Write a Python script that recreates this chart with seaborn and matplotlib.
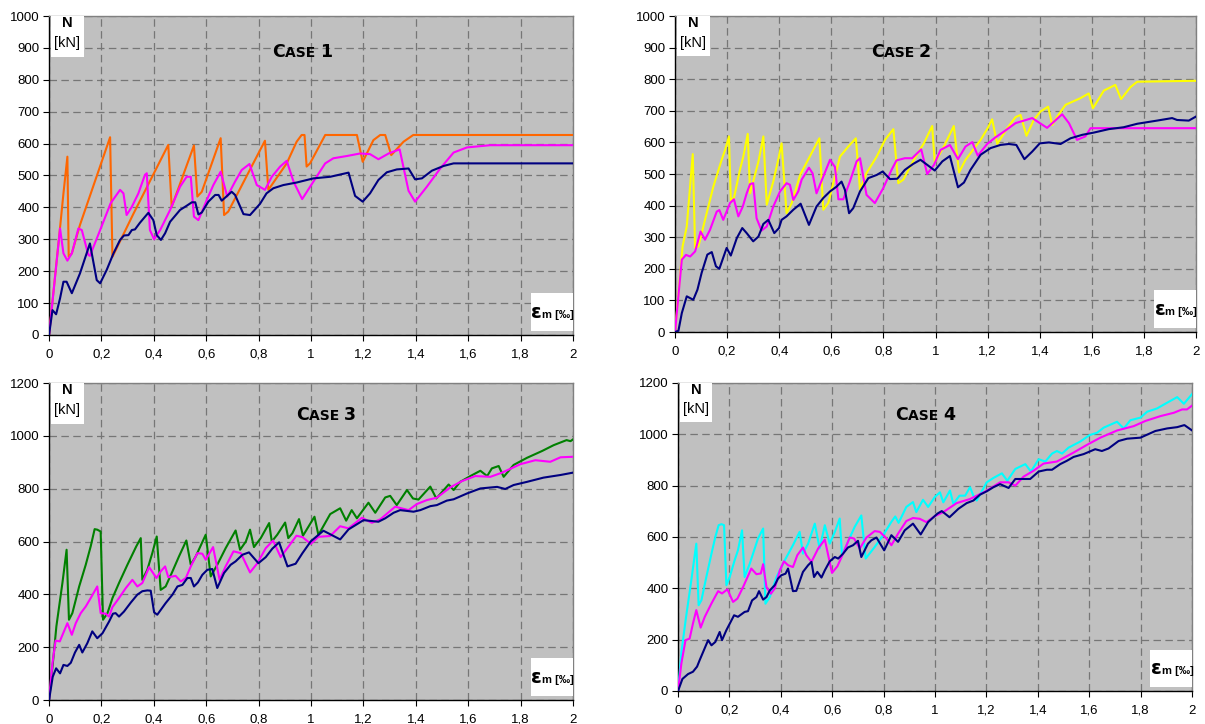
import matplotlib
matplotlib.use("Agg")
import matplotlib.pyplot as plt
from matplotlib.offsetbox import TextArea, HPacker, AnnotationBbox
from matplotlib.patches import Rectangle
import seaborn as sns

plt.rcParams["font.family"] = ["Liberation Sans", "DejaVu Sans"]

# ---------------- data: axial force N [kN] vs mean strain em [permille] ----------------
x_ticks = [0, 0.2, 0.4, 0.6, 0.8, 1.0, 1.2, 1.4, 1.6, 1.8, 2.0]
x_tick_labels = ["0", "0,2", "0,4", "0,6", "0,8", "1", "1,2", "1,4", "1,6", "1,8", "2"]
case_titles = ["1", "2", "3", "4"]
y_ticks_top = [0, 100, 200, 300, 400, 500, 600, 700, 800, 900, 1000]
y_ticks_bottom = [0, 200, 400, 600, 800, 1000, 1200]

# Case 1
c1_orange_x = [0, 0.04, 0.055, 0.07, 0.075, 0.087, 0.118, 0.233, 0.242, 0.322, 0.455, 0.468, 0.553,
               0.566, 0.583, 0.655, 0.668, 0.684, 0.824, 0.837, 0.907, 0.945, 0.964, 0.975, 0.983,
               0.996, 1.054, 1.175, 1.197, 1.238, 1.264, 1.283, 1.306, 1.353, 1.39, 2.0]
c1_orange_y = [0, 320, 444, 559, 245, 256, 345, 620, 245, 380, 596, 402, 594,
               434, 449, 617, 376, 387, 609, 455, 538, 606, 627, 627, 528,
               538, 627, 627, 543, 611, 627, 627, 564, 606, 627, 627]

c1_magenta_x = [0, 0.042, 0.055, 0.07, 0.087, 0.112, 0.125, 0.15, 0.156, 0.195, 0.235, 0.271, 0.284,
                0.296, 0.316, 0.341, 0.366, 0.373, 0.385, 0.401, 0.424, 0.462, 0.5, 0.525, 0.541,
                0.553, 0.57, 0.602, 0.627, 0.655, 0.68, 0.71, 0.735, 0.765, 0.793, 0.824, 0.85,
                0.882, 0.907, 0.933, 0.966, 1.009, 1.054, 1.085, 1.136, 1.187, 1.225, 1.257, 1.296,
                1.338, 1.372, 1.397, 1.442, 1.493, 1.544, 1.595, 1.684, 2.0]
c1_magenta_y = [0, 334, 256, 233, 256, 334, 329, 251, 248, 329, 413, 455, 444,
                376, 402, 444, 502, 507, 329, 300, 329, 392, 465, 496, 496,
                371, 360, 423, 470, 512, 434, 481, 517, 536, 470, 455, 496,
                528, 546, 481, 426, 481, 538, 554, 561, 569, 567, 551, 569,
                582, 452, 418, 465, 522, 572, 588, 595, 595]

c1_navy_x = [0, 0.013, 0.027, 0.042, 0.055, 0.067, 0.087, 0.118, 0.156, 0.182, 0.195, 0.22, 0.246,
             0.271, 0.286, 0.303, 0.316, 0.328, 0.347, 0.379, 0.398, 0.411, 0.427, 0.443, 0.462,
             0.5, 0.525, 0.545, 0.558, 0.57, 0.583, 0.608, 0.634, 0.647, 0.659, 0.697, 0.71,
             0.742, 0.767, 0.805, 0.83, 0.856, 0.894, 0.945, 1.009, 1.073, 1.143, 1.168, 1.197,
             1.225, 1.257, 1.289, 1.327, 1.372, 1.397, 1.423, 1.461, 1.506, 1.544, 2.0]
c1_navy_y = [0, 78, 65, 115, 167, 167, 131, 193, 287, 172, 162, 204, 256,
             298, 312, 313, 329, 331, 352, 383, 360, 313, 298, 319, 355,
             392, 405, 416, 416, 378, 384, 418, 439, 439, 421, 449, 439,
             379, 376, 411, 444, 460, 470, 478, 491, 496, 509, 436, 418,
             444, 486, 510, 519, 522, 488, 491, 515, 530, 538, 538]

# Case 2
c2_yellow_x = [0, 0.029, 0.045, 0.068, 0.077, 0.09, 0.115, 0.147, 0.179, 0.192, 0.207, 0.214, 0.226,
               0.249, 0.262, 0.279, 0.288, 0.3, 0.32, 0.339, 0.352, 0.377, 0.396, 0.409, 0.428,
               0.448, 0.48, 0.524, 0.554, 0.569, 0.588, 0.633, 0.665, 0.694, 0.71, 0.735, 0.774,
               0.806, 0.838, 0.857, 0.876, 0.917, 0.955, 0.987, 0.997, 1.032, 1.07, 1.09, 1.115,
               1.173, 1.2, 1.217, 1.237, 1.275, 1.307, 1.326, 1.349, 1.377, 1.403, 1.432, 1.448,
               1.467, 1.499, 1.556, 1.588, 1.604, 1.646, 1.69, 1.712, 1.748, 1.774, 2.0]
c2_yellow_y = [0, 271, 334, 563, 266, 271, 355, 460, 545, 576, 619, 418, 424,
               513, 555, 627, 439, 476, 539, 619, 403, 476, 545, 597, 376,
               408, 497, 566, 613, 387, 408, 555, 587, 613, 450, 503, 555,
               608, 642, 471, 482, 545, 597, 652, 536, 587, 652, 505, 545,
               608, 645, 673, 595, 645, 680, 687, 621, 671, 698, 713, 655,
               682, 719, 740, 755, 708, 764, 782, 737, 775, 792, 795]

c2_magenta_x = [0, 0.026, 0.042, 0.058, 0.077, 0.098, 0.115, 0.134, 0.16, 0.17, 0.185, 0.211, 0.226,
                0.243, 0.26, 0.275, 0.288, 0.3, 0.313, 0.332, 0.352, 0.377, 0.403, 0.428, 0.441,
                0.454, 0.473, 0.486, 0.514, 0.528, 0.543, 0.569, 0.595, 0.614, 0.627, 0.646, 0.671,
                0.697, 0.71, 0.735, 0.767, 0.799, 0.831, 0.85, 0.882, 0.91, 0.945, 0.968, 0.994,
                1.019, 1.055, 1.086, 1.115, 1.141, 1.162, 1.198, 1.23, 1.262, 1.307, 1.371, 1.428,
                1.486, 1.512, 1.543, 1.575, 1.595, 2.0]
c2_magenta_y = [0, 229, 244, 239, 255, 318, 292, 323, 381, 386, 355, 408, 420,
                366, 397, 439, 468, 471, 360, 321, 334, 397, 445, 471, 466,
                418, 445, 482, 520, 502, 439, 492, 545, 522, 420, 420, 476,
                540, 550, 434, 408, 455, 513, 543, 550, 550, 578, 500, 529,
                576, 592, 547, 587, 601, 558, 595, 616, 634, 661, 677, 646,
                689, 661, 608, 619, 645, 645]

c2_navy_x = [0, 0.013, 0.026, 0.045, 0.07, 0.086, 0.102, 0.124, 0.141, 0.157, 0.17, 0.198, 0.214,
             0.237, 0.258, 0.275, 0.3, 0.32, 0.339, 0.358, 0.381, 0.399, 0.409, 0.428, 0.454,
             0.482, 0.514, 0.543, 0.569, 0.595, 0.62, 0.639, 0.652, 0.668, 0.684, 0.71, 0.742,
             0.774, 0.797, 0.825, 0.853, 0.882, 0.914, 0.942, 0.968, 0.997, 1.026, 1.055, 1.086,
             1.109, 1.134, 1.173, 1.211, 1.249, 1.281, 1.31, 1.341, 1.371, 1.4, 1.435, 1.48,
             1.518, 1.563, 1.607, 1.665, 1.722, 1.774, 1.85, 1.908, 1.927, 1.972, 2.0]
c2_navy_y = [0, 4, 60, 113, 102, 134, 187, 245, 253, 208, 200, 266, 242,
             297, 329, 313, 287, 302, 342, 355, 313, 329, 355, 366, 387,
             406, 339, 397, 424, 445, 460, 476, 450, 376, 392, 445, 487,
             497, 508, 484, 485, 513, 532, 545, 529, 511, 540, 557, 458,
             473, 513, 561, 582, 592, 595, 592, 547, 571, 597, 600, 595,
             613, 624, 631, 642, 648, 659, 669, 677, 671, 669, 682]

# Case 3
c3_green_x = [0, 0.017, 0.028, 0.051, 0.067, 0.076, 0.089, 0.115, 0.14, 0.159, 0.174, 0.184, 0.197,
              0.206, 0.223, 0.242, 0.267, 0.299, 0.333, 0.35, 0.356, 0.375, 0.394, 0.411, 0.426,
              0.445, 0.471, 0.496, 0.524, 0.541, 0.56, 0.598, 0.617, 0.642, 0.674, 0.712, 0.729,
              0.751, 0.767, 0.782, 0.808, 0.84, 0.85, 0.871, 0.901, 0.913, 0.929, 0.954, 0.969,
              1.013, 1.028, 1.073, 1.111, 1.134, 1.155, 1.175, 1.219, 1.245, 1.283, 1.302, 1.327,
              1.366, 1.389, 1.41, 1.455, 1.478, 1.525, 1.544, 1.569, 1.608, 1.646, 1.672, 1.69,
              1.716, 1.735, 1.773, 1.824, 1.882, 1.926, 1.975, 1.99, 2.0]
c3_green_y = [0, 164, 279, 443, 569, 304, 329, 430, 512, 582, 647, 645, 638,
              304, 329, 386, 443, 512, 582, 613, 455, 493, 556, 619, 417,
              430, 487, 544, 604, 512, 544, 626, 468, 512, 575, 642, 569,
              600, 645, 579, 613, 670, 600, 626, 672, 613, 632, 685, 622,
              694, 625, 704, 726, 679, 719, 688, 747, 709, 767, 773, 738,
              795, 763, 759, 808, 763, 816, 795, 826, 848, 868, 848, 877,
              886, 845, 890, 917, 943, 965, 984, 980, 987]

c3_magenta_x = [0, 0.013, 0.025, 0.041, 0.07, 0.087, 0.102, 0.121, 0.14, 0.159, 0.184, 0.197, 0.216,
                0.229, 0.242, 0.267, 0.293, 0.318, 0.337, 0.356, 0.382, 0.41, 0.426, 0.443, 0.455,
                0.483, 0.503, 0.522, 0.541, 0.566, 0.585, 0.598, 0.626, 0.651, 0.674, 0.704, 0.732,
                0.767, 0.795, 0.827, 0.855, 0.884, 0.916, 0.944, 0.967, 0.999, 1.028, 1.073, 1.111,
                1.143, 1.194, 1.232, 1.264, 1.321, 1.372, 1.404, 1.442, 1.48, 1.531, 1.576, 1.627,
                1.684, 1.729, 1.799, 1.856, 1.913, 1.952, 2.0]
c3_magenta_y = [0, 139, 225, 222, 291, 247, 291, 329, 354, 386, 430, 329, 327,
                316, 352, 386, 424, 455, 430, 443, 503, 462, 487, 506, 465,
                470, 449, 462, 506, 556, 554, 531, 579, 455, 506, 563, 556,
                483, 518, 575, 604, 541, 584, 622, 617, 591, 618, 621, 658,
                650, 690, 671, 684, 732, 719, 742, 757, 766, 805, 829, 848,
                845, 861, 893, 908, 902, 919, 921]

c3_navy_x = [0, 0.014, 0.027, 0.042, 0.055, 0.07, 0.083, 0.099, 0.115, 0.127, 0.146, 0.165, 0.184,
             0.204, 0.229, 0.244, 0.254, 0.267, 0.286, 0.312, 0.337, 0.356, 0.375, 0.388, 0.401,
             0.413, 0.445, 0.471, 0.49, 0.509, 0.528, 0.541, 0.553, 0.568, 0.585, 0.604, 0.623,
             0.642, 0.668, 0.693, 0.712, 0.738, 0.763, 0.799, 0.827, 0.852, 0.878, 0.91, 0.941,
             0.967, 0.999, 1.047, 1.111, 1.143, 1.2, 1.257, 1.283, 1.315, 1.34, 1.391, 1.417,
             1.455, 1.48, 1.518, 1.544, 1.595, 1.646, 1.71, 1.741, 1.773, 1.824, 1.887, 1.952, 2.0]
c3_navy_y = [0, 88, 120, 101, 133, 129, 141, 180, 209, 180, 215, 260, 234,
             253, 297, 327, 329, 316, 335, 369, 399, 412, 415, 414, 332,
             323, 367, 399, 430, 436, 462, 462, 430, 445, 474, 493, 496,
             424, 481, 512, 525, 550, 559, 518, 541, 573, 597, 506, 516,
             556, 601, 641, 608, 646, 681, 675, 688, 709, 719, 713, 719,
             734, 738, 755, 760, 782, 801, 807, 799, 814, 826, 842, 852, 861]

# Case 4
c4_cyan_x = [0, 0.013, 0.03, 0.05, 0.071, 0.08, 0.091, 0.11, 0.13, 0.145, 0.158, 0.169, 0.179,
             0.188, 0.201, 0.22, 0.233, 0.249, 0.259, 0.279, 0.311, 0.331, 0.34, 0.357, 0.383,
             0.415, 0.447, 0.473, 0.486, 0.506, 0.532, 0.551, 0.571, 0.59, 0.61, 0.629, 0.638,
             0.661, 0.687, 0.713, 0.73, 0.765, 0.798, 0.83, 0.845, 0.858, 0.888, 0.914, 0.927,
             0.953, 0.973, 0.999, 1.019, 1.032, 1.058, 1.071, 1.095, 1.117, 1.136, 1.149, 1.162,
             1.201, 1.227, 1.26, 1.281, 1.312, 1.351, 1.373, 1.403, 1.429, 1.455, 1.474, 1.494,
             1.519, 1.565, 1.601, 1.63, 1.656, 1.708, 1.734, 1.76, 1.799, 1.825, 1.864, 1.89,
             1.942, 1.968, 2.0]
c4_cyan_y = [0, 150, 280, 420, 574, 334, 354, 444, 535, 600, 646, 650, 646,
             412, 444, 509, 548, 626, 444, 496, 594, 633, 340, 366, 444,
             509, 568, 620, 535, 574, 652, 555, 646, 574, 620, 672, 529,
             581, 639, 684, 516, 561, 607, 659, 680, 655, 717, 736, 697,
             745, 717, 756, 774, 735, 781, 729, 761, 761, 794, 761, 742,
             813, 830, 848, 819, 865, 884, 855, 903, 894, 925, 935, 925,
             948, 972, 997, 1006, 1026, 1049, 1023, 1055, 1065, 1088, 1101, 1116,
             1145, 1119, 1157]

c4_magenta_x = [0, 0.013, 0.029, 0.045, 0.058, 0.071, 0.088, 0.104, 0.13, 0.156, 0.171, 0.192, 0.214,
                0.231, 0.253, 0.285, 0.305, 0.322, 0.331, 0.344, 0.361, 0.376, 0.396, 0.412, 0.428,
                0.447, 0.464, 0.486, 0.499, 0.519, 0.545, 0.571, 0.599, 0.62, 0.642, 0.668, 0.685,
                0.707, 0.733, 0.765, 0.785, 0.811, 0.83, 0.856, 0.888, 0.914, 0.94, 0.966, 0.999,
                1.032, 1.084, 1.136, 1.195, 1.253, 1.286, 1.312, 1.344, 1.383, 1.422, 1.474, 1.539,
                1.591, 1.643, 1.708, 1.773, 1.818, 1.877, 1.929, 1.961, 1.98, 2.0]
c4_magenta_y = [0, 108, 198, 204, 263, 315, 247, 289, 341, 389, 380, 396, 347,
                360, 405, 477, 455, 458, 494, 405, 379, 399, 470, 505, 490,
                483, 529, 559, 529, 503, 555, 590, 460, 486, 535, 598, 594,
                555, 598, 623, 620, 594, 568, 613, 662, 674, 671, 658, 681,
                697, 732, 748, 777, 813, 813, 800, 835, 858, 886, 894, 929,
                959, 987, 1015, 1032, 1052, 1071, 1084, 1097, 1097, 1112]

c4_navy_x = [0, 0.017, 0.039, 0.058, 0.074, 0.084, 0.117, 0.13, 0.145, 0.162, 0.171, 0.188, 0.218,
             0.233, 0.259, 0.272, 0.288, 0.305, 0.315, 0.331, 0.344, 0.357, 0.376, 0.389, 0.402,
             0.418, 0.428, 0.447, 0.46, 0.486, 0.506, 0.519, 0.529, 0.542, 0.558, 0.571, 0.59,
             0.61, 0.623, 0.642, 0.661, 0.681, 0.7, 0.713, 0.726, 0.739, 0.752, 0.772, 0.802,
             0.83, 0.856, 0.882, 0.914, 0.944, 0.973, 1.009, 1.026, 1.056, 1.091, 1.123, 1.149,
             1.175, 1.201, 1.227, 1.253, 1.286, 1.312, 1.37, 1.403, 1.435, 1.455, 1.487, 1.513,
             1.539, 1.578, 1.623, 1.649, 1.675, 1.714, 1.747, 1.799, 1.857, 1.903, 1.942, 1.97, 2.0]
c4_navy_y = [0, 47, 66, 75, 95, 120, 198, 178, 191, 230, 198, 237, 295,
             289, 308, 311, 353, 366, 389, 356, 366, 392, 412, 438, 451,
             457, 477, 389, 390, 464, 490, 503, 444, 464, 442, 470, 505,
             522, 516, 535, 559, 568, 585, 522, 548, 574, 587, 598, 548,
             607, 581, 626, 652, 610, 658, 691, 701, 677, 710, 732, 742,
             765, 778, 794, 806, 791, 826, 826, 855, 862, 862, 884, 897,
             912, 923, 942, 935, 945, 974, 983, 987, 1013, 1023, 1028, 1036, 1015]

NAVY = "#000080"
MAGENTA = "#FF00FF"

panels = [
    dict(rect=[0.0407, 0.5373, 0.4349, 0.4406], ymax=1000, yticks=y_ticks_top,
         series=[(c1_orange_x, c1_orange_y, "#FF6600"), (c1_magenta_x, c1_magenta_y, MAGENTA),
                 (c1_navy_x, c1_navy_y, NAVY)],
         title=case_titles[0], title_xy=(0.483, 0.887)),
    dict(rect=[0.5602, 0.5414, 0.4324, 0.4365], ymax=1000, yticks=y_ticks_top,
         series=[(c2_yellow_x, c2_yellow_y, "#FFFF00"), (c2_magenta_x, c2_magenta_y, MAGENTA),
                 (c2_navy_x, c2_navy_y, NAVY)],
         title=case_titles[1], title_xy=(0.434, 0.886)),
    dict(rect=[0.0407, 0.0331, 0.4349, 0.4378], ymax=1200, yticks=y_ticks_bottom,
         series=[(c3_green_x, c3_green_y, "#008000"), (c3_magenta_x, c3_magenta_y, MAGENTA),
                 (c3_navy_x, c3_navy_y, NAVY)],
         title=case_titles[2], title_xy=(0.528, 0.899)),
    dict(rect=[0.5627, 0.0456, 0.4266, 0.4254], ymax=1200, yticks=y_ticks_bottom,
         series=[(c4_cyan_x, c4_cyan_y, "#00FFFF"), (c4_magenta_x, c4_magenta_y, MAGENTA),
                 (c4_navy_x, c4_navy_y, NAVY)],
         title=case_titles[3], title_xy=(0.481, 0.896)),
]

TITLE_FONT = ["DejaVu Sans"]
LABEL_FONT = ["Liberation Sans", "DejaVu Sans"]


def packed_text(ax, pieces, xy):
    children = [TextArea(txt, textprops=dict(fontsize=size, fontweight="bold", family=fam, color="black"))
                for txt, size, fam in pieces]
    box = HPacker(children=children, align="baseline", pad=0, sep=0)
    ab = AnnotationBbox(box, xy, xycoords="axes fraction", frameon=False,
                        box_alignment=(0.5, 0.5), zorder=6, annotation_clip=False)
    ax.add_artist(ab)


fig = plt.figure(figsize=(12.05, 7.24), dpi=100)

for p in panels:
    ax = fig.add_axes(p["rect"])
    ax.set_facecolor("#C0C0C0")
    for xs, ys, color in p["series"]:
        sns.lineplot(x=xs, y=ys, ax=ax, color=color, linewidth=1.5, sort=False,
                     estimator=None, legend=False, zorder=3)
    ax.set_xlim(0, 2)
    ax.set_ylim(0, p["ymax"])
    ax.set_xticks(x_ticks)
    ax.set_xticklabels(x_tick_labels)
    ax.set_yticks(p["yticks"])
    ax.set_yticklabels([str(v) for v in p["yticks"]])
    ax.set_xlabel("")
    ax.set_ylabel("")
    ax.set_axisbelow(True)
    ax.grid(True, color="#767676", linestyle=(0, (6, 3.5)), linewidth=0.9)
    for side in ("top", "right"):
        ax.spines[side].set_color("#808080")
        ax.spines[side].set_linewidth(1.0)
    for side in ("left", "bottom"):
        ax.spines[side].set_color("black")
        ax.spines[side].set_linewidth(1.0)
    ax.tick_params(axis="y", direction="out", length=4, width=0.8, labelsize=9.5, pad=3)
    ax.tick_params(axis="x", direction="out", length=4, width=0.8, labelsize=9.5, pad=6)

    # white label boxes
    ax.add_patch(Rectangle((0.003, 0.872), 0.064, 0.128, transform=ax.transAxes,
                           facecolor="white", edgecolor="none", zorder=4))
    ax.add_patch(Rectangle((0.919, 0.012), 0.081, 0.121, transform=ax.transAxes,
                           facecolor="white", edgecolor="none", zorder=4))
    ax.text(0.035, 0.978, "N", transform=ax.transAxes, ha="center", va="center",
            fontsize=10.5, fontweight="bold", zorder=6)
    ax.text(0.035, 0.915, "[kN]", transform=ax.transAxes, ha="center", va="center",
            fontsize=10.5, zorder=6)

    packed_text(ax, [("ε", 14, TITLE_FONT), ("m [‰]", 8, LABEL_FONT)], (0.961, 0.072))
    packed_text(ax, [("C", 12.5, TITLE_FONT), ("ASE ", 10, TITLE_FONT),
                     (p["title"], 12.5, TITLE_FONT)], p["title_xy"])

fig.savefig("out.png", dpi=100)
